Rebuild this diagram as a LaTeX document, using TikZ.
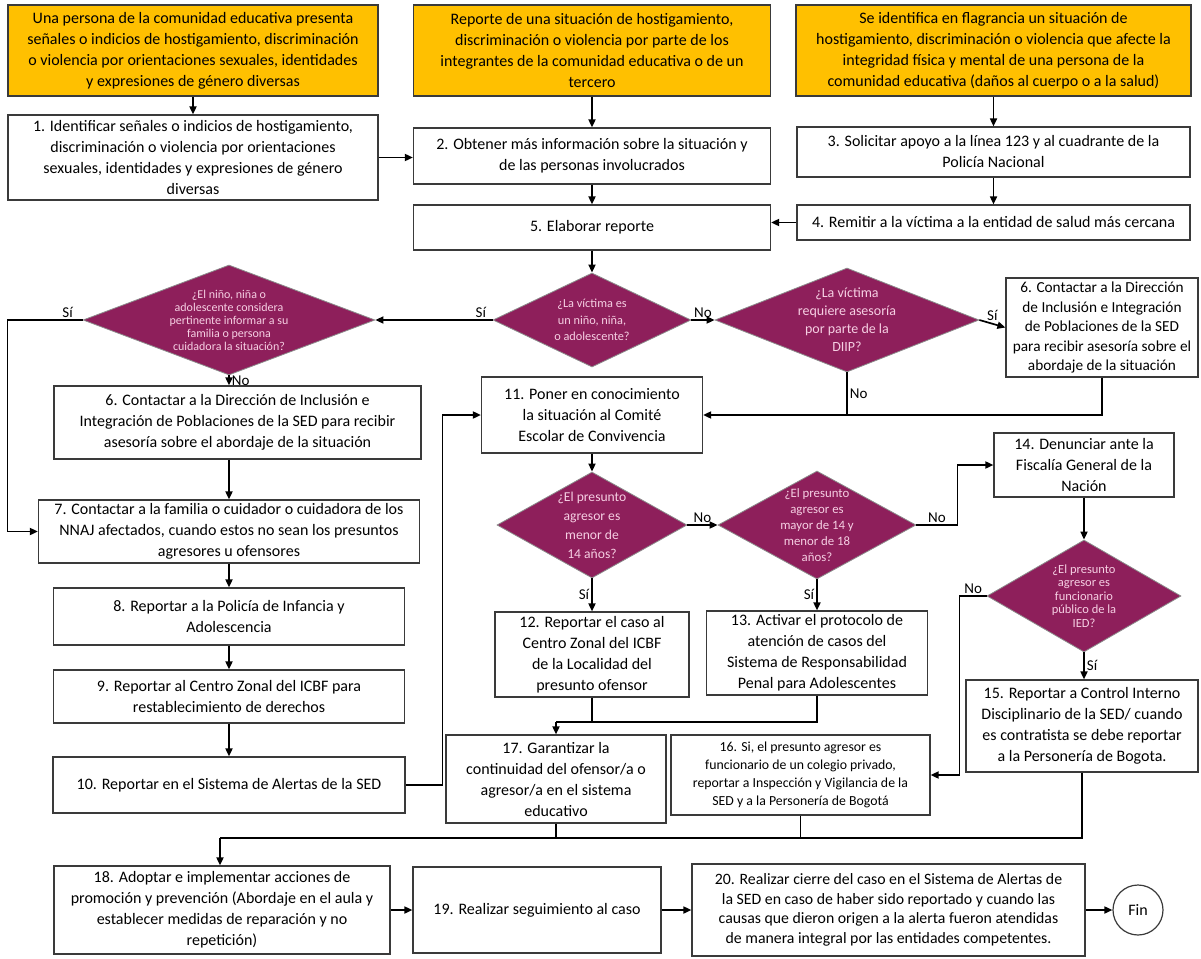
\documentclass[tikz,border=0pt]{standalone}
\usepackage{fontspec}
\setmainfont{Carlito}
\usetikzlibrary{shapes.geometric,arrows.meta}
\definecolor{amarillo}{HTML}{FFC000}
\definecolor{vinotinto}{HTML}{8E1F5B}
\definecolor{rosado}{HTML}{F6CFE3}
\definecolor{borde}{HTML}{3A3A3A}

\begin{document}
\begin{tikzpicture}[x=1pt, y=-1pt,
        caja/.style={draw=borde, line width=1.2pt, fill=white, align=center, inner sep=2pt, font=\fontsize{16}{21}\selectfont},
        inicio/.style={caja, fill=amarillo},
        pregunta/.style={diamond, draw=white!55!black, line width=0.8pt, fill=vinotinto, inner sep=0pt},
        ptexto/.style={text=rosado, align=center},
        flecha/.style={-{Triangle[length=8pt,width=7pt]}, line width=1.7pt},
        linea/.style={line width=1.7pt},
        etiq/.style={font=\fontsize{15}{17}\selectfont, inner sep=2pt}]

        \useasboundingbox (0,0) rectangle (1201,958);

        \node[inicio, minimum width=370, minimum height=91] (y1) at (193,50.5) {Una persona de la comunidad educativa presenta\\ señales o indicios de hostigamiento, discriminación\\ o violencia por orientaciones sexuales, identidades\\ y expresiones de género diversas};
        \node[inicio, minimum width=357, minimum height=91] (y2) at (592,50.5) {Reporte de una situación de hostigamiento,\\ discriminación o violencia por parte de los\\ integrantes de la comunidad educativa o de un\\ tercero};
        \node[inicio, minimum width=395, minimum height=91] (y3) at (993.5,50.5) {Se identifica en flagrancia un situación de\\ hostigamiento, discriminación o violencia que afecte la\\ integridad física y mental de una persona de la\\ comunidad educativa (daños al cuerpo o a la salud)};

        \node[caja, minimum width=370, minimum height=85] (b1) at (193,157.5) {1. Identificar señales o indicios de hostigamiento,\\ discriminación o violencia por orientaciones\\ sexuales,  identidades y expresiones de género\\ diversas};
        \node[caja, minimum width=357, minimum height=56] (b2) at (592,156) {2. Obtener más información sobre la situación y\\ de las personas involucrados};
        \node[caja, minimum width=393, minimum height=50] (b3) at (993.5,152) {3. Solicitar apoyo a la línea 123 y al cuadrante de la\\ Policía Nacional};
        \node[caja, minimum width=393, minimum height=35] (b4) at (993.5,222.5) {4. Remitir a la víctima a la entidad de salud más cercana};
        \node[caja, minimum width=357, minimum height=45] (b5) at (592,227.5) {5. Elaborar reporte};

        \node[pregunta, minimum width=198, minimum height=94, label={[ptexto, font=\fontsize{12.3}{16.5}\selectfont]center:{¿La víctima es\\ un niño, niña,\\ o adolescente?}}] (d1) at (592,320) {};
        \node[pregunta, minimum width=292, minimum height=110, label={[ptexto, font=\fontsize{12}{13}\selectfont]center:{¿El niño, niña o\\ adolescente considera\\ pertinente informar a su\\ familia o persona\\ cuidadora la situación?}}] (d2) at (229,320) {};
        \node[pregunta, minimum width=264, minimum height=104, label={[ptexto, font=\fontsize{14}{18}\selectfont]center:{¿La víctima\\ requiere asesoría\\ por parte de la\\ DIIP?}}] (d3) at (847,320) {};
        \node[caja, minimum width=192, minimum height=99, font=\fontsize{15.3}{19.5}\selectfont] (b6b) at (1102,327.5) {6. Contactar a la Dirección\\ de  Inclusión e Integración\\ de Poblaciones de la SED\\ para recibir asesoría sobre el\\ abordaje de la situación};

        \node[caja, minimum width=367, minimum height=73] (b6a) at (237.5,422.5) {6. Contactar a la Dirección de  Inclusión e\\ Integración de Poblaciones de la SED para recibir\\ asesoría sobre el abordaje de la situación};
        \node[caja, minimum width=381, minimum height=63] (b7) at (229,531.5) {7. Contactar a la familia o cuidador o cuidadora de los\\ NNAJ afectados, cuando estos no sean los presuntos\\ agresores u ofensores};
        \node[caja, minimum width=351, minimum height=57] (b8) at (229,616.5) {8. Reportar a la Policía de Infancia y\\ Adolescencia};
        \node[caja, minimum width=351, minimum height=53] (b9) at (229,696.5) {9. Reportar al Centro Zonal del ICBF para\\ restablecimiento de derechos};
        \node[caja, minimum width=352, minimum height=56] (b10) at (229,785) {10. Reportar en el Sistema de Alertas de la SED};

        \node[caja, minimum width=221, minimum height=76] (b11) at (592,415) {11. Poner en conocimiento\\ la situación al Comité\\ Escolar de Convivencia};
        \node[pregunta, minimum width=190, minimum height=106, label={[ptexto, font=\fontsize{13.6}{19}\selectfont]center:{¿El presunto\\ agresor es\\ menor de\\ 14 años?}}] (d4) at (592,525) {};
        \node[pregunta, minimum width=198, minimum height=108, label={[ptexto, font=\fontsize{12.8}{16}\selectfont]center:{¿El presunto\\ agresor es\\ mayor de 14 y\\ menor de 18\\ años?}}] (d5) at (817,525) {};
        \node[caja, minimum width=194, minimum height=85] (b12) at (592,654.5) {12. Reportar el caso al\\ Centro Zonal del ICBF\\ de la Localidad del\\ presunto ofensor};
        \node[caja, minimum width=221, minimum height=84] (b13) at (817,653) {13. Activar el protocolo de\\ atención de casos del\\ Sistema de Responsabilidad\\ Penal para Adolescentes};

        \node[caja, minimum width=180, minimum height=64] (b14) at (1084,465) {14. Denunciar ante la\\ Fiscalía General de la\\ Nación};
        \node[pregunta, minimum width=194, minimum height=112, label={[ptexto, font=\fontsize{12.5}{13.5}\selectfont]center:{¿El presunto\\ agresor es\\ funcionario\\ público de la\\ IED?}}] (d6) at (1084,596) {};
        \node[caja, minimum width=232, minimum height=92] (b15) at (1082,726) {15. Reportar a Control Interno\\ Disciplinario de la SED/ cuando\\ es contratista se debe reportar\\ a la Personería de Bogota.};
        \node[caja, minimum width=259, minimum height=80, font=\fontsize{13.8}{18}\selectfont] (b16) at (800.5,775) {16. Si, el presunto agresor es\\ funcionario de un colegio privado,\\ reportar a Inspección y Vigilancia de la\\ SED y a la Personería de Bogotá};
        \node[caja, minimum width=220, minimum height=88] (b17) at (556,779) {17. Garantizar la\\ continuidad del ofensor/a o\\ agresor/a en el sistema\\ educativo};

        \node[caja, minimum width=336, minimum height=88] (b18) at (222,910) {18. Adoptar e implementar acciones de\\ promoción y prevención (Abordaje en el aula y\\ establecer medidas de reparación y no\\ repetición)};
        \node[caja, minimum width=248, minimum height=86] (b19) at (537,910) {19. Realizar seguimiento al caso};
        \node[caja, minimum width=393, minimum height=92, font=\fontsize{15.8}{19.5}\selectfont] (b20) at (888.5,910) {20. Realizar cierre del caso en el Sistema de Alertas de\\ la SED en caso de haber sido reportado y cuando las\\ causas que dieron origen a la alerta fueron atendidas\\ de manera integral por las entidades competentes.};
        \node[caja, circle, minimum size=50, inner sep=0pt] (fin) at (1138,910) {Fin};

        \coordinate (m1) at (556,722);
        \coordinate (m2) at (220,838);

        \draw[flecha] (y1) -- (b1);
        \draw[flecha] (y2) -- (b2);
        \draw[flecha] (y3) -- (b3);
        \draw[flecha] (b1.east) -- (b1.east -| b2.west);
        \draw[flecha] (b2) -- (b5);
        \draw[flecha] (b3) -- (b4);
        \draw[flecha] (b4.west) -- (b4.west -| b5.east);
        \draw[flecha] (b5) -- (d1);

        \draw[flecha] (d1.west) -- node[etiq, above, pos=0.1] {Sí} (d2.east);
        \draw[flecha] (d1.east) -- node[etiq, above] {No} (d3.west);
        \draw[flecha] (d3.east) -- node[etiq, above] {Sí} (b6b.west);
        \draw[flecha] (d3.south) |- node[etiq, right, pos=0.25] {No} (b11.east);
        \draw[linea] (b6b.south) |- (d3.south |- b11.east);

        \draw[flecha] (d2.west) -- node[etiq, above, pos=0.2] {Sí} ++(-75,0) |- (b7.west);
        \draw[flecha] (d2.south) -- node[etiq, right] {No} (d2.south |- b6a.north);
        \draw[flecha] (b7.north |- b6a.south) -- (b7.north);
        \draw[flecha] (b7) -- (b8);
        \draw[flecha] (b8) -- (b9);
        \draw[flecha] (b9) -- (b10);
        \draw[flecha] (b10.east) -- ++(37,0) |- (b11.west);

        \draw[flecha] (b11) -- (d4);
        \draw[flecha] (d4.east) -- node[etiq, above] {No} (d5.west);
        \draw[flecha] (d4.south) -- node[etiq, left] {Sí} (b12.north);
        \draw[flecha] (d5.south) -- node[etiq, left] {Sí} (b13.north);
        \draw[flecha] (d5.east) -- node[etiq, above] {No} ++(41,0) |- (b14.west);
        \draw[flecha] (b14) -- (d6);
        \draw[flecha] (d6.south) -- node[etiq, right] {Sí} (d6.south |- b15.north);
        \draw[flecha] (d6.west) -- node[etiq, above] {No} ++(-27,0) |- (b16.east);

        \draw[linea] (b12.south) |- (m1);
        \draw[linea] (b13.south) |- (m1);
        \draw[flecha] (m1) -- (b17.north);
        \draw[linea] (b15.south) |- (m2);
        \draw[linea] (b16.south) |- (m2);
        \draw[linea] (b17.south) |- (m2);
        \draw[flecha] (m2) -- (m2 |- b18.north);

        \draw[flecha] (b18) -- (b19);
        \draw[flecha] (b19) -- (b20);
        \draw[flecha] (b20) -- (fin);

    \end{tikzpicture}
\end{document}
